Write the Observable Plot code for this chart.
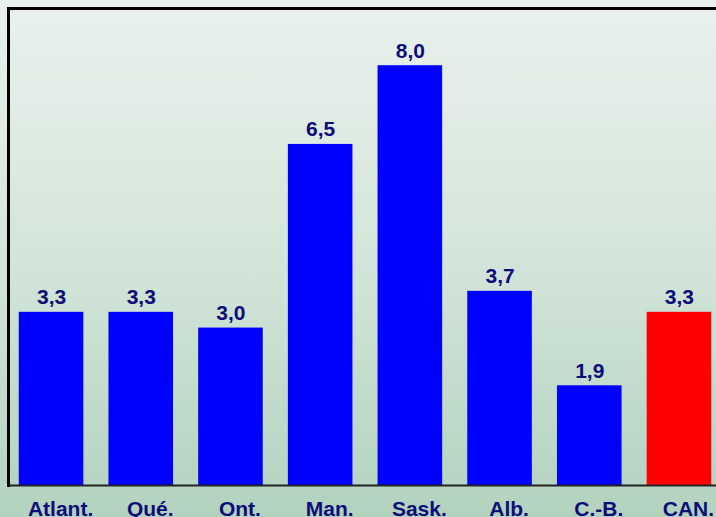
<!DOCTYPE html>
<html>
<head>
<meta charset="utf-8">
<script src="https://cdn.jsdelivr.net/npm/d3@7"></script>
<script src="https://cdn.jsdelivr.net/npm/@observablehq/plot@0.6"></script>
<style>
  html, body { margin: 0; padding: 0; }
  body { width: 716px; height: 517px; overflow: hidden;
         background: linear-gradient(to bottom, #e9f1ec 0%, #d3e5da 50%, #b2d2be 100%); }
  #chart svg { display: block; background: transparent; }
</style>
</head>
<body>
<div id="chart"></div>
<script>
const regions = ["Atlant.", "Qué.", "Ont.", "Man.", "Sask.", "Alb.", "C.-B.", "CAN."];
const values = [3.3, 3.3, 3.0, 6.5, 8.0, 3.7, 1.9, 3.3];
const labels = ["3,3", "3,3", "3,0", "6,5", "8,0", "3,7", "1,9", "3,3"];
const colors = ["#0000ff", "#0000ff", "#0000ff", "#0000ff", "#0000ff", "#0000ff", "#0000ff", "#ff0000"];

const data = regions.map((r, i) => ({region: r, value: values[i], label: labels[i], color: colors[i]}));

const chart = Plot.plot({
  width: 716,
  height: 517,
  marginLeft: 8,
  marginTop: 8,
  marginBottom: 32,
  marginRight: 0,
  style: {background: "transparent", fontFamily: "'Liberation Sans', Arial, sans-serif"},
  x: {domain: regions, range: [6.2, 723.8], round: false, paddingInner: 0.28, paddingOuter: 0.14, label: null},
  y: {domain: [0, 9.09], axis: null},
  marks: [
    Plot.barY(data, {x: "region", y: "value", fill: "color"}),
    Plot.ruleY([0], {stroke: "#222", strokeWidth: 2}),
    Plot.frame({anchor: "left", stroke: "#000", strokeWidth: 3}),
    Plot.frame({anchor: "top", stroke: "#000", strokeWidth: 3}),
    Plot.text(data, {x: "region", y: "value", text: "label", lineAnchor: "bottom", dy: -8,
      fill: "#0d0d7a", fontSize: 21, fontWeight: "bold"}),
    Plot.axisX({tickSize: 0, tickPadding: 16, dx: 9, fontSize: 21, fontWeight: "bold", fill: "#0d0d7a", label: null})
  ]
});
document.getElementById("chart").appendChild(chart);
</script>
</body>
</html>
